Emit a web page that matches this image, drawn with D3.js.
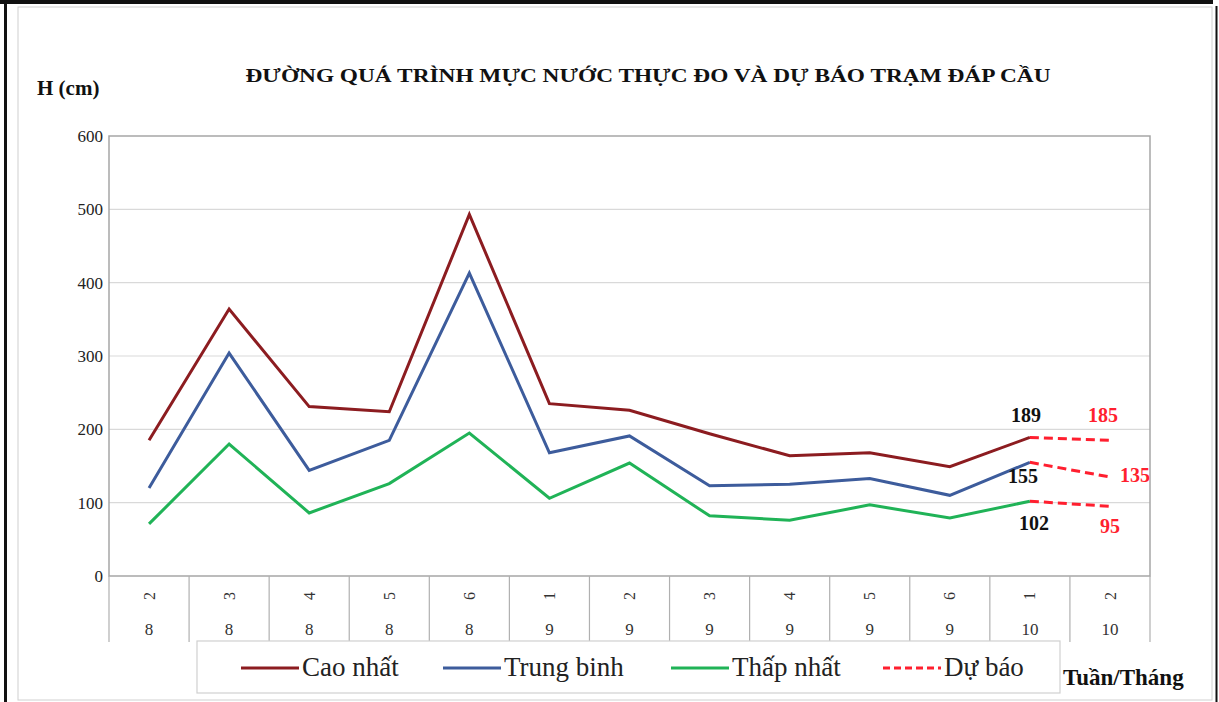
<!DOCTYPE html>
<html>
<head>
<meta charset="utf-8">
<script src="https://cdn.jsdelivr.net/npm/d3@7"></script>
<style>
  html, body { margin: 0; padding: 0; background: #fff; }
  svg { display: block; }
  text { font-family: "Liberation Serif", "Times New Roman", serif; }
</style>
</head>
<body>
<svg id="chart" width="1219" height="702"></svg>
<script>
// Weekly water levels at Đáp Cầu station (cm)
const weeks  = ["2", "3", "4", "5", "6", "1", "2", "3", "4", "5", "6", "1", "2"];
const months = ["8", "8", "8", "8", "8", "9", "9", "9", "9", "9", "9", "10", "10"];

const caoNhat   = [185, 364, 231, 224, 493, 235, 226, 194, 164, 168, 149, 189];
const trungBinh = [120, 304, 144, 185, 413, 168, 191, 123, 125, 133, 110, 155];
const thapNhat  = [71, 180, 86, 126, 195, 106, 154, 82, 76, 97, 79, 102];

// Forecast for the following week, continuing from the last observed week
const duBaoCao   = [189, 185];
const duBaoTB    = [155, 135];
const duBaoThap  = [102, 95];

const yTicks = [0, 100, 200, 300, 400, 500, 600];

const legendNames = ["Cao nhất", "Trung binh", "Thấp nhất", "Dự báo"];

const C_CAO = "#8c1c20", C_TB = "#3d5c9c", C_THAP = "#20b357", C_DB = "#ff1f2f";

const svg = d3.select("#chart");

// outer frame
svg.append("rect").attr("x", 18).attr("y", 7).attr("width", 1194).attr("height", 693)
  .attr("fill", "none").attr("stroke", "#d0d0d0").attr("stroke-width", 1);
svg.append("line").attr("x1", 0).attr("x2", 1213).attr("y1", 2).attr("y2", 2)
  .attr("stroke", "#111").attr("stroke-width", 4);
svg.append("line").attr("x1", 5.5).attr("x2", 5.5).attr("y1", 0).attr("y2", 702)
  .attr("stroke", "#111").attr("stroke-width", 3);
svg.append("line").attr("x1", 1216.5).attr("x2", 1216.5).attr("y1", 6).attr("y2", 702)
  .attr("stroke", "#111").attr("stroke-width", 2);

const plotL = 109, plotR = 1150, plotT = 136, plotB = 576;

const x = d3.scaleBand().domain(d3.range(weeks.length)).range([plotL, plotR]).padding(0);
const xc = i => x(i) + x.bandwidth() / 2;
const y = d3.scaleLinear().domain([0, 600]).range([plotB, plotT]);

// gridlines
svg.append("g").selectAll("line").data(yTicks.filter(t => t > 0 && t < 600)).join("line")
  .attr("x1", plotL).attr("x2", plotR)
  .attr("y1", d => y(d)).attr("y2", d => y(d))
  .attr("stroke", "#d9d9d9").attr("stroke-width", 1.2);

// plot border
svg.append("rect").attr("x", plotL).attr("y", plotT).attr("width", plotR - plotL).attr("height", plotB - plotT)
  .attr("fill", "none").attr("stroke", "#a6a6a6").attr("stroke-width", 1.5);

// y axis labels
const yAxis = d3.axisLeft(y).tickValues(yTicks).tickSize(0).tickPadding(6);
const gy = svg.append("g").attr("transform", `translate(${plotL},0)`).call(yAxis);
gy.select(".domain").remove();
gy.selectAll("text").attr("font-family", "Liberation Serif, serif").attr("font-size", 17).attr("fill", "#222");

// x axis: two-level categories with separators
const gx = svg.append("g");
gx.selectAll("line.sep").data(d3.range(weeks.length + 1)).join("line")
  .attr("class", "sep")
  .attr("x1", i => i < weeks.length ? x(i) : plotR)
  .attr("x2", i => i < weeks.length ? x(i) : plotR)
  .attr("y1", plotB).attr("y2", 642)
  .attr("stroke", "#b0b0b0").attr("stroke-width", 1.2);
gx.selectAll("text.week").data(weeks).join("text")
  .attr("class", "week")
  .attr("transform", (d, i) => `translate(${xc(i)},596) rotate(-90)`)
  .attr("text-anchor", "middle").attr("dy", "0.35em")
  .attr("font-size", 16).attr("fill", "#333")
  .text(d => d);
gx.selectAll("text.month").data(months).join("text")
  .attr("class", "month")
  .attr("x", (d, i) => xc(i)).attr("y", 629)
  .attr("text-anchor", "middle").attr("dy", "0.35em")
  .attr("font-size", 17).attr("fill", "#333")
  .text(d => d);

// series
const line = d3.line().x(d => xc(d.i)).y(d => y(d.v));
const toPts = (arr, start = 0) => arr.map((v, k) => ({ i: start + k, v }));

const observed = [
  { data: thapNhat, color: C_THAP },
  { data: trungBinh, color: C_TB },
  { data: caoNhat, color: C_CAO }
];
svg.append("g").selectAll("path").data(observed).join("path")
  .attr("d", s => line(toPts(s.data)))
  .attr("fill", "none").attr("stroke", s => s.color)
  .attr("stroke-width", 3).attr("stroke-linejoin", "miter");

const last = caoNhat.length - 1;
const forecasts = [duBaoCao, duBaoTB, duBaoThap];
svg.append("g").selectAll("path").data(forecasts).join("path")
  .attr("d", f => line(toPts(f, last)))
  .attr("fill", "none").attr("stroke", C_DB)
  .attr("stroke-width", 3).attr("stroke-dasharray", "9,5");

// value labels
const lbl = svg.append("g").attr("font-weight", "bold").attr("font-size", 20);
const addLbl = (i, v, dx, dy, color) =>
  lbl.append("text").attr("x", xc(i) + dx).attr("y", y(v) + dy)
    .attr("text-anchor", "middle").attr("fill", color).text(v);
addLbl(last, caoNhat[last], -4, -15, "#111");
addLbl(last, trungBinh[last], -7, 21, "#111");
addLbl(last, thapNhat[last], 4, 29, "#111");
addLbl(last + 1, duBaoCao[1], -7, -18, C_DB);
addLbl(last + 1, duBaoTB[1], 25, 5, C_DB);
addLbl(last + 1, duBaoThap[1], 0, 27, C_DB);

// title and axis titles
svg.append("text").attr("x", 648).attr("y", 82).attr("text-anchor", "middle")
  .attr("font-weight", "bold").attr("font-size", 19).attr("fill", "#111")
  .attr("textLength", 805).attr("lengthAdjust", "spacingAndGlyphs")
  .text("ĐƯỜNG QUÁ TRÌNH MỰC NƯỚC THỰC ĐO VÀ DỰ BÁO TRẠM ĐÁP CẦU");
svg.append("text").attr("x", 37).attr("y", 95)
  .attr("font-weight", "bold").attr("font-size", 21).attr("fill", "#111")
  .text("H (cm)");
svg.append("text").attr("x", 1063).attr("y", 685)
  .attr("font-weight", "bold").attr("font-size", 23).attr("fill", "#111")
  .text("Tuần/Tháng");

// legend
const lg = svg.append("g");
lg.append("rect").attr("x", 197).attr("y", 641).attr("width", 863).attr("height", 52)
  .attr("fill", "#fff").attr("stroke", "#d0d0d0").attr("stroke-width", 1.2);
const legendItems = [
  { name: legendNames[0], color: C_CAO, x: 241, dash: null },
  { name: legendNames[1], color: C_TB, x: 443, dash: null },
  { name: legendNames[2], color: C_THAP, x: 671, dash: null },
  { name: legendNames[3], color: C_DB, x: 883, dash: "7,4" }
];
const li = lg.selectAll("g.item").data(legendItems).join("g").attr("class", "item");
li.append("line").attr("x1", d => d.x).attr("x2", d => d.x + 58)
  .attr("y1", 668).attr("y2", 668)
  .attr("stroke", d => d.color).attr("stroke-width", 3)
  .attr("stroke-dasharray", d => d.dash);
li.append("text").attr("x", d => d.x + 61).attr("y", 676)
  .attr("font-size", 27).attr("fill", "#222")
  .text(d => d.name);
</script>
</body>
</html>
